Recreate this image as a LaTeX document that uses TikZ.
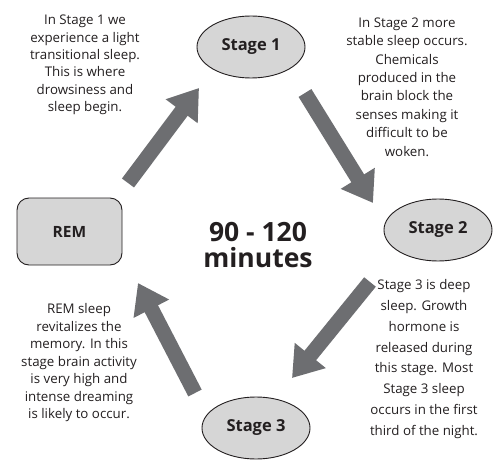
\documentclass[tikz,border=0pt]{standalone}
\usepackage{fontspec}
\setmainfont{Open Sans}
\usetikzlibrary{shapes.geometric,arrows.meta}
\definecolor{arrowgray}{HTML}{6D6E71}
\definecolor{fillgray}{HTML}{D6D6D6}
\definecolor{txt}{HTML}{231F20}
\tikzset{
  stage/.style={ellipse,draw=txt,line width=0.9pt,fill=fillgray,minimum width=108pt,minimum height=62pt,inner sep=0pt,font=\bfseries\fontsize{16.5}{19}\selectfont,text=txt},
  rembox/.style={rectangle,rounded corners=12pt,draw=txt,line width=0.9pt,fill=fillgray,minimum width=105pt,minimum height=67pt,inner sep=0pt,font=\bfseries\fontsize{15.5}{18}\selectfont,text=txt},
  desc/.style={align=center,inner sep=0pt,text=txt},
  bigarrow/.style={draw=arrowgray,line width=15pt,-{Triangle[length=29pt,width=38pt]}},
}
\begin{document}
\begin{tikzpicture}[x=1pt,y=-1pt]
\useasboundingbox (0,0) rectangle (496,460);
\fill[white] (0,0) rectangle (496,460);
\node[stage] (s1) at (251,47) {Stage 1};
\node[stage] (s2) at (438,230) {Stage 2};
\node[stage] (s3) at (256,428) {Stage 3};
\node[rembox] (rem) at (69.5,231.5) {REM};
\node[desc,font=\bfseries\fontsize{26.5}{26}\selectfont] (mid) at (258,245) {90 - 120\\minutes};
\node[desc,font=\fontsize{13.3}{17.4}\selectfont] (t1) at (85,65) {In Stage 1 we\\experience a light\\transitional sleep.\\This is where\\drowsiness and\\sleep begin.};
\node[desc,font=\fontsize{13.3}{18.4}\selectfont] (t2) at (407,87) {In Stage 2 more\\stable sleep occurs.\\Chemicals\\produced in the\\brain block the\\senses making it\\difficult to be\\woken.};
\node[desc,font=\fontsize{13.3}{20.8}\selectfont] (t3) at (424,359) {Stage 3 is deep\\sleep. Growth\\hormone is\\released during\\this stage. Most\\Stage 3 sleep\\occurs in the first\\third of the night.};
\node[desc,font=\fontsize{13.3}{17.5}\selectfont] (t4) at (79,363) {REM sleep\\revitalizes the\\memory. In this\\stage brain activity\\is very high and\\intense dreaming\\is likely to occur.};
\coordinate (a1s) at (128,183);
\coordinate (a1e) at (199,88);
\coordinate (a2s) at (305,93);
\coordinate (a2e) at (373,203);
\coordinate (a3s) at (370,282);
\coordinate (a3e) at (292,378);
\coordinate (a4s) at (195,393);
\coordinate (a4e) at (138,283);
\draw[bigarrow] (a1s) -- (a1e);
\draw[bigarrow] (a2s) -- (a2e);
\draw[bigarrow] (a3s) -- (a3e);
\draw[bigarrow] (a4s) -- (a4e);
\end{tikzpicture}
\end{document}
